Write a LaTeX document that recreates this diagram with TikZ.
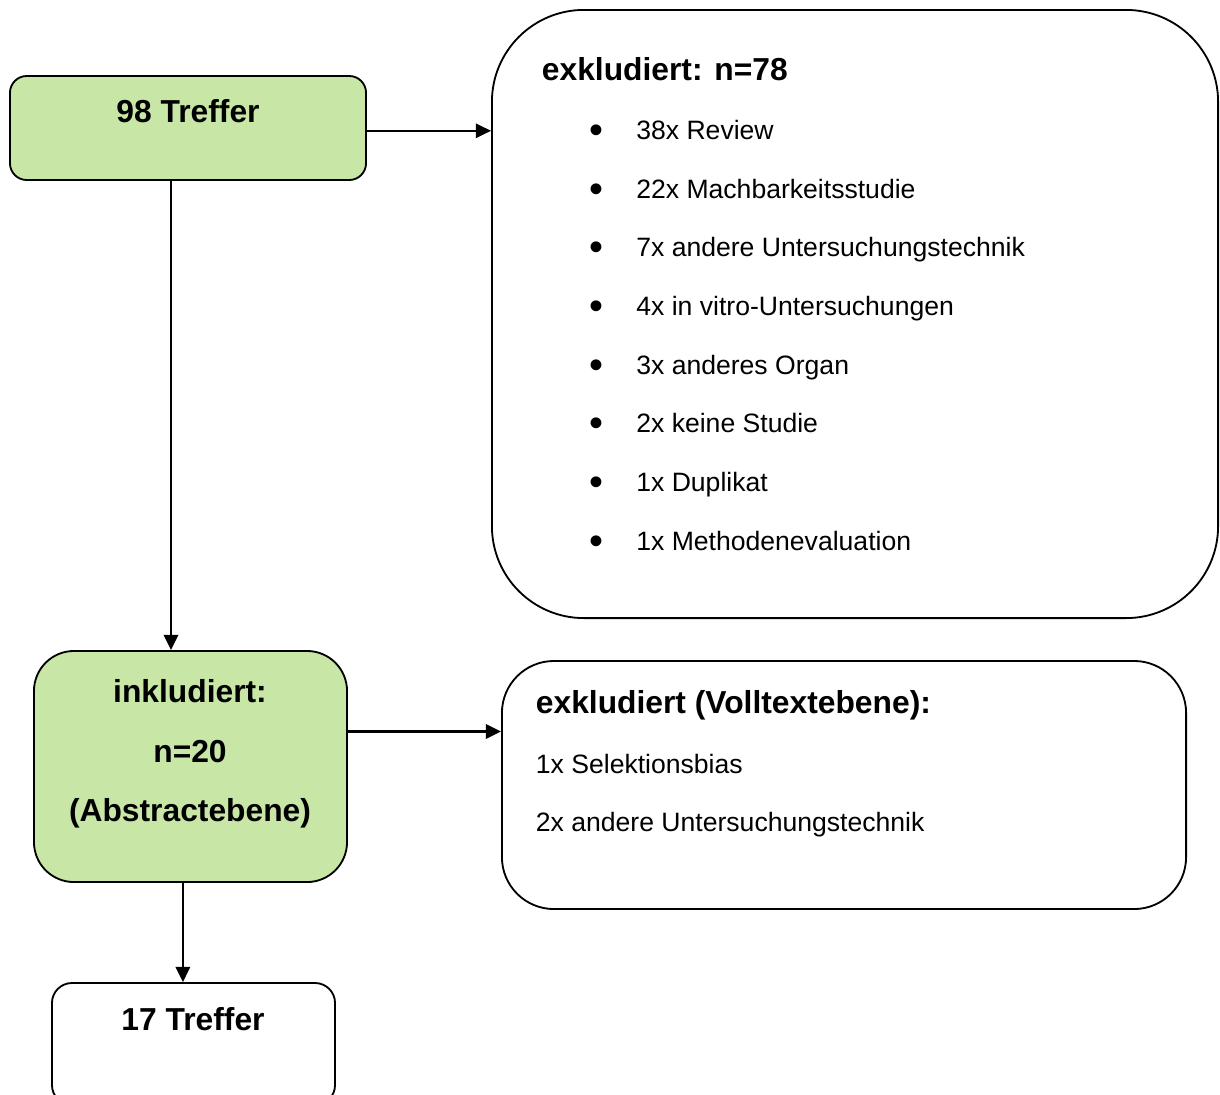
\documentclass[tikz,border=0pt]{standalone}
\usepackage{fontspec}
\setmainfont{Liberation Sans}
\usetikzlibrary{arrows.meta,positioning}
\definecolor{boxgreen}{RGB}{200,230,165}
\newcommand{\bigdot}{\makebox[1.16cm][l]{\raisebox{-0.15em}{\scalebox{1.5}{•}}}}

\begin{document}
\begin{tikzpicture}[x=0.025cm,y=-0.025cm,>={Triangle[length=0.38cm,width=0.36cm]},line width=1.3pt,
		box/.style={draw,rounded corners=#1,inner sep=0pt},
		head/.style={font=\fontsize{22.6}{27}\selectfont\bfseries,inner sep=0pt,text height=16.2pt,text depth=0pt},
		item/.style={font=\fontsize{18.9}{23}\selectfont,inner sep=0pt,anchor=west,text height=13.5pt,text depth=0pt}]
		\useasboundingbox (0,0) rectangle (1220,1094);
		
		\node[box=0.42cm,fill=boxgreen,minimum width=8.9cm,minimum height=2.6cm]   (T_1) at (188,128) {};
		\node[box=2.3cm,minimum width=18.15cm,minimum height=15.2cm]                (E_1) at (855,314) {};
		\node[box=1cm,fill=boxgreen,minimum width=7.825cm,minimum height=5.775cm]  (I_1) at (190.5,766.5) {};
		\node[box=1.3cm,minimum width=17.1cm,minimum height=6.2cm]                  (E_2) at (844,785) {};
		\node[box=0.5cm,minimum width=7.075cm,minimum height=3.05cm]                (T_2) at (193.5,1044) {};
		
		\node[head]             (H_1) at (188,111) {98 Treffer};
		\node[head,anchor=west] (H_2) at (541,69)  {exkludiert: n=78};
		\node[item] (L_1) at (589,130) {\bigdot 38x Review};
		\node[item] (L_2) at (589,189) {\bigdot 22x Machbarkeitsstudie};
		\node[item] (L_3) at (589,247) {\bigdot 7x andere Untersuchungstechnik};
		\node[item] (L_4) at (589,306) {\bigdot 4x in vitro-Untersuchungen};
		\node[item] (L_5) at (589,365) {\bigdot 3x anderes Organ};
		\node[item] (L_6) at (589,423) {\bigdot 2x keine Studie};
		\node[item] (L_7) at (589,482) {\bigdot 1x Duplikat};
		\node[item] (L_8) at (589,541) {\bigdot 1x Methodenevaluation};
		
		\node[head] (H_3) at (190,691) {inkludiert:};
		\node[head] (H_4) at (190,751) {n=20};
		\node[head] (H_5) at (190,810) {(Abstractebene)};
		
		\node[head,anchor=west] (H_6) at (535,702) {exkludiert (Volltextebene):};
		\node[item] (L_9)  at (535,764) {1x Selektionsbias};
		\node[item] (L_10) at (535,822) {2x andere Untersuchungstechnik};
		
		\node[head] (H_7) at (193,1019) {17 Treffer};
		
		\path[->,line width=1.5pt] ([yshift=-0.07cm]T_1.east) edge ([yshift=-0.07cm]T_1.east -| E_1.west)
		([xshift=-0.425cm]T_1.south) edge ([xshift=-0.425cm]T_1.south |- I_1.north)
		([yshift=0.875cm]I_1.east) edge ([yshift=0.875cm]I_1.east -| E_2.west)
		([xshift=-0.19cm]I_1.south) edge ([xshift=-0.19cm]I_1.south |- T_2.north);
	\end{tikzpicture}
\end{document}
